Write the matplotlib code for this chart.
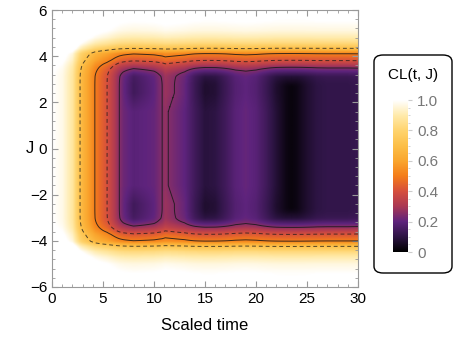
import numpy as np
import matplotlib
matplotlib.use('Agg')
import matplotlib.pyplot as plt
from matplotlib.colors import LinearSegmentedColormap
from matplotlib.patches import FancyBboxPatch
from matplotlib.ticker import MultipleLocator

plt.rcParams['font.family'] = ['Liberation Sans', 'DejaVu Sans']

# CL value in the middle of the band (|J| < 1.6), read at these times
t_knots = [0, 1, 2, 2.75, 3, 4, 4.2, 5, 5.4, 6, 6.6, 7, 8, 9, 10, 10.5, 10.8, 11.1, 11.4, 12,
           13, 14, 15, 16, 17, 18, 19, 20, 21, 22, 23, 23.5, 24, 25, 26, 27, 28, 29, 30]
cl_center = [1.0, 0.97, 0.88, 0.70, 0.66, 0.53, 0.50, 0.43, 0.40, 0.33, 0.25, 0.22, 0.19,
             0.20, 0.21, 0.235, 0.25, 0.27, 0.25, 0.23, 0.20, 0.14, 0.09, 0.10, 0.14, 0.19,
             0.21, 0.19, 0.14, 0.08, 0.03, 0.02, 0.03, 0.07, 0.10, 0.11, 0.11, 0.11, 0.12]
# CL value near the edges of the band (|J| ~ 2.5)
cl_side = [1.0, 0.97, 0.88, 0.70, 0.66, 0.53, 0.50, 0.43, 0.40, 0.33, 0.25, 0.21, 0.14,
           0.17, 0.20, 0.235, 0.25, 0.28, 0.27, 0.25, 0.21, 0.13, 0.07, 0.08, 0.13, 0.18,
           0.20, 0.18, 0.13, 0.07, 0.03, 0.02, 0.03, 0.07, 0.10, 0.11, 0.11, 0.11, 0.12]

# edges of the band in J, and CL across an edge (distance measured outward)
edge_top = 4.12
edge_bottom = -4.02
edge_dist = [-1.5, -1.0, -0.6, -0.3, 0.0, 0.22, 0.45, 0.7, 1.0, 1.4, 1.8]
edge_cl = [0.0, 0.08, 0.25, 0.40, 0.50, 0.70, 0.82, 0.90, 0.96, 0.995, 1.0]

levels_solid = [0.25, 0.5]
levels_dashed = [0.4, 0.7]
cbar_ticks = [0, 0.2, 0.4, 0.6, 0.8, 1.0]
cbar_labels = ['0', '0.2', '0.4', '0.6', '0.8', '1.0']

# build the field
t = np.linspace(0, 30, 601)
J = np.linspace(-6, 6, 481)
T, JJ = np.meshgrid(t, J)
inner_c = np.interp(T, t_knots, cl_center)
inner_s = np.interp(T, t_knots, cl_side)
w = np.clip((np.abs(JJ) - 1.6) / 0.8, 0, 1)
inner = inner_c * (1 - w) + inner_s * w
d = np.where(JJ >= 0, JJ - edge_top, edge_bottom - JJ)
edge = np.interp(d, edge_dist, edge_cl)
p = 2.5
Z = np.clip((inner ** p + edge ** p) ** (1 / p), 0, 1)

sunset = LinearSegmentedColormap.from_list('sunset', [
    (0.0, (0.0, 0.0, 0.0)),
    (0.1, (0.18, 0.08, 0.27)),
    (0.2, (0.37, 0.14, 0.49)),
    (0.3, (0.67, 0.22, 0.33)),
    (0.4, (0.84, 0.31, 0.24)),
    (0.5, (0.96, 0.49, 0.10)),
    (0.6, (0.98, 0.65, 0.18)),
    (0.7, (0.99, 0.75, 0.28)),
    (0.8, (1.0, 0.83, 0.43)),
    (0.9, (1.0, 0.92, 0.67)),
    (1.0, (1.0, 1.0, 1.0)),
])

fig = plt.figure(figsize=(4.58, 3.37), dpi=100)
W, H = 458, 337
ax = fig.add_axes([52 / W, 1 - 287 / H, 306 / W, 277 / H])
ax.imshow(Z, extent=[0, 30, -6, 6], origin='lower', aspect='auto', cmap=sunset,
          vmin=0, vmax=1, interpolation='bilinear')
ax.contour(T, JJ, Z, levels=levels_solid, colors='#1a1a1a', linewidths=0.7, alpha=0.85)
ax.contour(T, JJ, Z, levels=levels_dashed, colors='#1a1a1a', linewidths=0.7,
           linestyles=[(0, (4, 3))], alpha=0.75)

ax.set_xlim(0, 30)
ax.set_ylim(-6, 6)
ax.xaxis.set_major_locator(MultipleLocator(5))
ax.xaxis.set_minor_locator(MultipleLocator(1))
ax.yaxis.set_major_locator(MultipleLocator(2))
ax.yaxis.set_minor_locator(MultipleLocator(0.4))
ax.tick_params(which='both', direction='in', top=True, right=True, color='#999999',
               labelsize=11)
ax.tick_params(which='major', length=4)
ax.tick_params(which='minor', length=2)
for s in ax.spines.values():
    s.set_color('#999999')
ax.set_xlabel('Scaled time', fontsize=12, va='center')
ax.xaxis.set_label_coords(0.5, -39 / 277)
ax.set_ylabel('J', fontsize=12, rotation=0, va='center', ha='center')
ax.yaxis.set_label_coords(-22 / 306, 0.5)

# colour bar legend with a rounded frame
box = FancyBboxPatch((374 / W, 1 - 273 / H), 78 / W, 218 / H,
                     boxstyle='round,pad=0,rounding_size=0.02',
                     transform=fig.transFigure, facecolor='white',
                     edgecolor='black', linewidth=1.0, zorder=-1)
fig.patches.append(box)
fig.text(413 / W, 1 - 75 / H, 'CL(t, J)', ha='center', va='center', fontsize=11)
cax = fig.add_axes([393 / W, 1 - 252 / H, 15 / W, 152 / H])
grad = np.linspace(0, 1, 256).reshape(-1, 1)
cax.imshow(grad, extent=[0, 1, 0, 1], origin='lower', aspect='auto', cmap=sunset)
cax.set_xticks([])
cax.yaxis.tick_right()
cax.set_yticks(cbar_ticks)
cax.set_yticklabels(cbar_labels)
cax.yaxis.set_minor_locator(MultipleLocator(0.05))
cax.tick_params(which='both', colors='#cccccc', labelcolor='#777777', labelsize=11,
                direction='out')
cax.tick_params(which='major', length=3)
cax.tick_params(which='minor', length=1.5)
for s in cax.spines.values():
    s.set_visible(False)

fig.savefig('out.png', dpi=100)
